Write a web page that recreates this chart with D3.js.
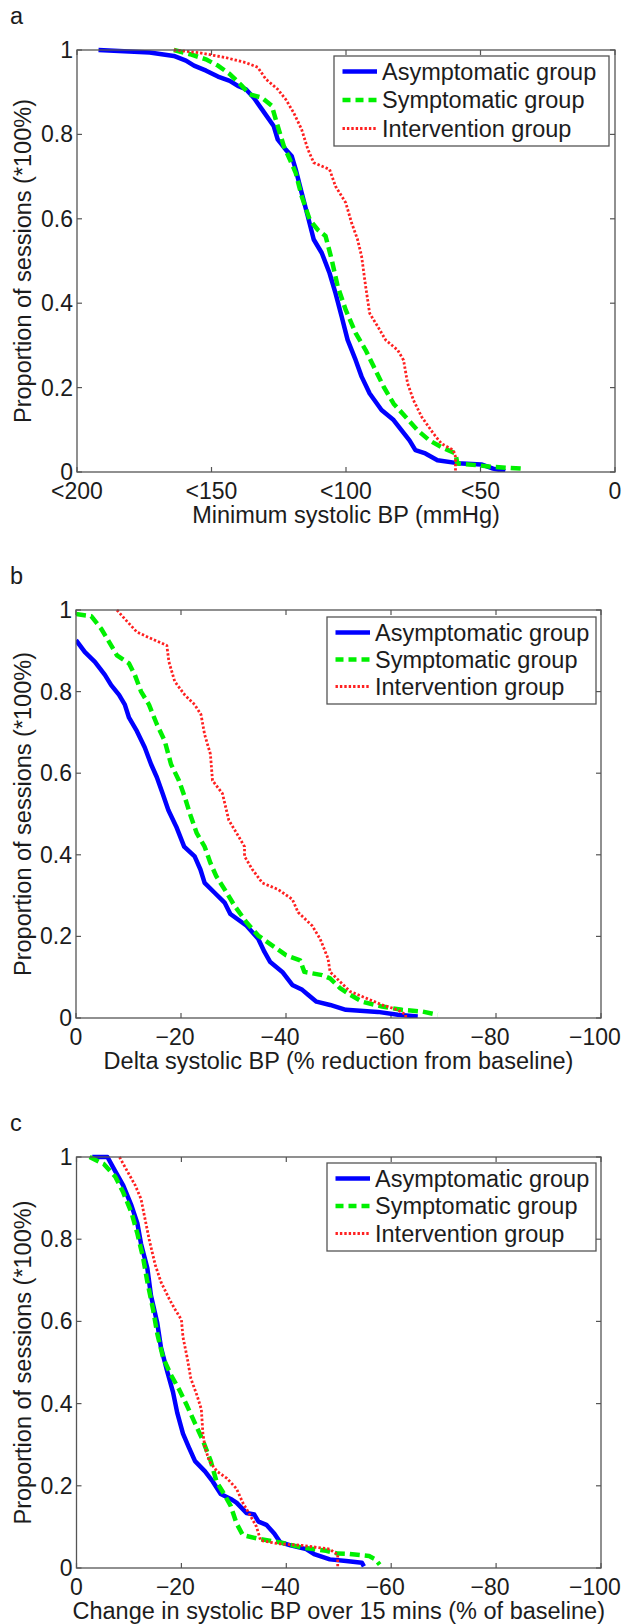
<!DOCTYPE html>
<html>
<head>
<meta charset="utf-8">
<script src="https://cdn.jsdelivr.net/npm/d3@7"></script>
<style>
  body { margin: 0; background: #fff; }
  text { font-family: "Liberation Sans", Arial, Helvetica, sans-serif; fill: #1c1c1c; }
</style>
</head>
<body>
<svg id="chart" width="624" height="1624"></svg>
<script>
// legend / series
const seriesNames = ["Asymptomatic group", "Symptomatic group", "Intervention group"];
const yTicks = [0, 0.2, 0.4, 0.6, 0.8, 1];
const yTickLabels = ["0", "0.2", "0.4", "0.6", "0.8", "1"];
const yTitle = "Proportion of sessions (*100%)";

// panel a : minimum systolic BP
const xTicksA = [-200, -150, -100, -50, 0];
const xTickLabelsA = ["<200", "<150", "<100", "<50", "0"];
const xTitleA = "Minimum systolic BP (mmHg)";
const asymA = [[-192,1],[-173,0.994],[-164,0.986],[-159.5,0.975],[-156.5,0.963],[-152,0.951],[-147.6,0.937],[-143.2,0.927],
  [-140.2,0.915],[-137.2,0.907],[-134.3,0.887],[-131.3,0.86],[-126.9,0.82],[-125.4,0.788],[-122.4,0.764],[-120.2,0.749],
  [-118.7,0.717],[-116.5,0.662],[-114.2,0.606],[-112,0.551],[-109,0.519],[-106.1,0.471],[-103.9,0.424],[-101.6,0.368],
  [-99.4,0.313],[-96.4,0.265],[-94.2,0.226],[-91.2,0.186],[-86.8,0.147],[-82.3,0.123],[-79.4,0.099],[-76.4,0.075],
  [-74.2,0.052],[-70.5,0.044],[-66,0.028],[-58.6,0.021],[-49.7,0.018],[-45.3,0.008],[-40.8,0.002]];
const sympA = [[-164,1],[-158,0.99],[-152.1,0.978],[-147.6,0.963],[-143.2,0.943],[-138.7,0.915],[-135.8,0.895],[-131.3,0.887],
  [-127.6,0.868],[-125.4,0.82],[-123.1,0.772],[-120.9,0.741],[-118.7,0.709],[-116.5,0.654],[-113.5,0.598],[-110.5,0.574],
  [-107.6,0.559],[-105.3,0.503],[-103.1,0.44],[-100.1,0.384],[-96.4,0.329],[-92.7,0.289],[-89.7,0.25],[-86,0.202],
  [-82.3,0.162],[-77.9,0.131],[-73.4,0.099],[-69,0.075],[-64.5,0.059],[-59.3,0.044],[-58.6,0.02],[-51.2,0.016],
  [-45.3,0.012],[-34.9,0.008]];
const intA = [[-164,1],[-155,0.994],[-144.7,0.982],[-137.2,0.97],[-132.8,0.959],[-129.8,0.931],[-125.4,0.907],[-122.4,0.883],
  [-119.5,0.852],[-116.5,0.812],[-114.2,0.765],[-112,0.733],[-106.1,0.717],[-103.9,0.677],[-100.1,0.638],[-97.9,0.59],
  [-95.7,0.551],[-94.2,0.511],[-92.7,0.44],[-91.2,0.376],[-88.2,0.345],[-85.3,0.313],[-80.8,0.289],[-78.6,0.265],
  [-77.1,0.21],[-74.9,0.17],[-71.9,0.131],[-67.5,0.091],[-64.5,0.067],[-60.1,0.052],[-59.3,0.036],[-59.3,0]];

// panel b : delta systolic BP
const xTicksBC = [0, -20, -40, -60, -80, -100];
const xTickLabelsBC = ["0", "\u221220", "\u221240", "\u221260", "\u221280", "\u2212100"];
const xTitleB = "Delta systolic BP (% reduction from baseline)";
const asymB = [[0,0.926],[-1.7,0.897],[-3.6,0.873],[-5.5,0.841],[-6.7,0.816],[-8.2,0.792],[-9.3,0.768],[-10.1,0.736],
  [-11.6,0.703],[-13.1,0.663],[-14.3,0.622],[-15.4,0.59],[-16.5,0.55],[-17.6,0.509],[-19.1,0.469],[-20.6,0.42],
  [-22.6,0.396],[-23.7,0.364],[-24.5,0.331],[-26.4,0.307],[-28.3,0.283],[-29.4,0.255],[-32.5,0.226],[-34.7,0.194],
  [-35.9,0.162],[-37,0.137],[-39.3,0.113],[-41.2,0.081],[-43.1,0.069],[-44.2,0.057],[-45.8,0.04],[-48.4,0.032],
  [-51.4,0.02],[-57.5,0.015],[-61.3,0.008],[-65.1,0.004]];
const sympB = [[0,0.99],[-2.9,0.985],[-4.8,0.954],[-6.3,0.922],[-7.8,0.889],[-10.1,0.869],[-11.2,0.841],[-12.4,0.8],
  [-13.9,0.768],[-15.4,0.72],[-16.9,0.679],[-18.1,0.622],[-19.6,0.582],[-20.7,0.542],[-21.9,0.493],[-23,0.453],
  [-24.5,0.42],[-25.6,0.38],[-26.7,0.348],[-28.7,0.307],[-30.2,0.275],[-32.5,0.234],[-34.7,0.202],[-37.8,0.174],
  [-40,0.154],[-42.7,0.141],[-43.5,0.113],[-46.9,0.105],[-48.4,0.097],[-50.3,0.073],[-52.2,0.057],[-54.5,0.04],
  [-58.3,0.028],[-62.1,0.02],[-65.9,0.016],[-68.9,0.008]];
const intB = [[-7.8,1],[-9.3,0.978],[-11.6,0.946],[-14.3,0.93],[-17.3,0.913],[-17.7,0.873],[-18.8,0.825],[-20.7,0.792],
  [-22.6,0.768],[-23.8,0.744],[-24.5,0.695],[-25.6,0.647],[-26,0.582],[-27.9,0.55],[-29.1,0.485],[-30.6,0.453],
  [-32.1,0.42],[-32.1,0.396],[-33.6,0.364],[-35.5,0.331],[-38.5,0.315],[-41.2,0.291],[-42.3,0.259],[-45,0.226],
  [-46.5,0.194],[-48,0.146],[-48.4,0.113],[-50.3,0.089],[-52.2,0.065],[-55.2,0.049],[-58.3,0.032],[-61.3,0.02],
  [-62.8,0.008],[-62.8,0]];

// panel c : change over 15 mins
const xTitleC = "Change in systolic BP over 15 mins (% of baseline)";
const asymC = [[-3,1],[-5.9,1],[-7.4,0.965],[-8.9,0.931],[-10.5,0.881],[-11.6,0.839],[-12.3,0.789],[-13.5,0.73],
  [-14.2,0.663],[-15.4,0.596],[-16.1,0.537],[-17.3,0.478],[-18.4,0.428],[-19.2,0.378],[-20.3,0.327],[-21.4,0.294],
  [-22.6,0.26],[-24.5,0.235],[-26,0.21],[-27.5,0.18],[-29.4,0.168],[-30.5,0.159],[-32.4,0.134],[-33.9,0.13],
  [-34.7,0.113],[-36.2,0.105],[-37.7,0.084],[-38.8,0.063],[-40.8,0.055],[-43.8,0.046],[-45.3,0.034],[-48.3,0.021],
  [-51.4,0.017],[-54.4,0.013],[-54.8,0.004]];
const sympC = [[-2.5,1],[-5.2,0.983],[-7.4,0.952],[-8.9,0.914],[-10.5,0.864],[-11.6,0.814],[-12.7,0.755],[-13.5,0.697],
  [-14.6,0.629],[-15.4,0.57],[-16.5,0.512],[-18,0.47],[-19.5,0.436],[-21.1,0.394],[-22.6,0.352],[-24.1,0.31],
  [-25.6,0.26],[-26.7,0.21],[-27.9,0.185],[-29.4,0.151],[-30.5,0.109],[-31.7,0.08],[-34.7,0.071],[-38.5,0.063],
  [-43,0.05],[-47.6,0.042],[-49.8,0.035],[-52.1,0.034],[-55.8,0.029],[-57,0.021],[-57.8,0.008]];
const intC = [[-8.2,1],[-9.7,0.965],[-11.2,0.931],[-12.3,0.898],[-13.1,0.847],[-13.9,0.797],[-15,0.738],[-16.1,0.696],
  [-17.7,0.654],[-18.8,0.629],[-20,0.604],[-20.3,0.562],[-21.1,0.512],[-21.8,0.461],[-23,0.419],[-23.8,0.386],
  [-24.1,0.327],[-24.5,0.294],[-25.3,0.26],[-26.8,0.235],[-28.7,0.218],[-30.5,0.193],[-31.7,0.159],[-33.2,0.126],
  [-34.3,0.101],[-35.1,0.067],[-38.5,0.059],[-43,0.055],[-48.3,0.046],[-49.1,0.038],[-49.8,0.034],[-49.8,0]];

const styles = [
  { color: "#0000ff", width: 4.5, dash: null, legendDash: null },
  { color: "#00f000", width: 4.5, dash: "10,5", legendDash: "8,5" },
  { color: "#ff2020", width: 2.8, dash: "2.4,2", legendDash: "2.4,2" }
];

const panels = [
  { label: "a", left: 77, right: 615, top: 50, bottom: 472, domain: [-200, 0],
    ticks: xTicksA, tickLabels: xTickLabelsA, title: xTitleA, series: [asymA, sympA, intA],
    legend: { x: 334, y: 56, w: 275, h: 90 } },
  { label: "b", left: 76, right: 601, top: 610, bottom: 1018, domain: [0, -100],
    ticks: xTicksBC, tickLabels: xTickLabelsBC, title: xTitleB, series: [asymB, sympB, intB],
    legend: { x: 327, y: 617, w: 269, h: 87 } },
  { label: "c", left: 76.5, right: 601, top: 1157, bottom: 1568, domain: [0, -100],
    ticks: xTicksBC, tickLabels: xTickLabelsBC, title: xTitleC, series: [asymC, sympC, intC],
    legend: { x: 327, y: 1163, w: 269, h: 88 } }
];

const svg = d3.select("#chart");
const fs = 23.5;
const tickFs = 23;
const axisColor = "#555";
const tickLen = 5;

panels.forEach((p, pi) => {
  const x = d3.scaleLinear().domain(p.domain).range([p.left, p.right]);
  const y = d3.scaleLinear().domain([0, 1]).range([p.bottom, p.top]);
  const g = svg.append("g");

  g.append("text").attr("x", 10).attr("y", p.top - 26)
    .attr("font-size", fs).text(p.label);

  // clip the curves to the axes box
  const clipId = "clip" + pi;
  svg.append("clipPath").attr("id", clipId).append("rect")
    .attr("x", p.left).attr("y", p.top - 3)
    .attr("width", p.right - p.left).attr("height", p.bottom - p.top + 3);

  // ticks, inside, on all four sides (matlab box)
  p.ticks.forEach(t => {
    g.append("line").attr("x1", x(t)).attr("x2", x(t)).attr("y1", p.bottom).attr("y2", p.bottom - tickLen)
      .attr("stroke", axisColor).attr("stroke-width", 1.2);
    g.append("line").attr("x1", x(t)).attr("x2", x(t)).attr("y1", p.top).attr("y2", p.top + tickLen)
      .attr("stroke", axisColor).attr("stroke-width", 1.2);
  });
  yTicks.forEach(t => {
    g.append("line").attr("x1", p.left).attr("x2", p.left + tickLen).attr("y1", y(t)).attr("y2", y(t))
      .attr("stroke", axisColor).attr("stroke-width", 1.2);
    g.append("line").attr("x1", p.right).attr("x2", p.right - tickLen).attr("y1", y(t)).attr("y2", y(t))
      .attr("stroke", axisColor).attr("stroke-width", 1.2);
  });

  // tick labels
  p.ticks.forEach((t, i) => {
    const lab = p.tickLabels[i];
    g.append("text").attr("x", x(t) + (lab.startsWith("\u2212") ? -6 : 0)).attr("y", p.bottom + 26.5)
      .attr("text-anchor", "middle").attr("font-size", tickFs).text(lab);
  });
  yTicks.forEach((t, i) => {
    g.append("text").attr("x", p.left - 4).attr("y", y(t) + 8)
      .attr("text-anchor", "end").attr("font-size", tickFs).text(yTickLabels[i]);
  });

  // axis titles
  g.append("text").attr("x", (p.left + p.right) / 2).attr("y", p.bottom + 50.5)
    .attr("text-anchor", "middle").attr("font-size", fs).text(p.title);
  g.append("text").attr("transform", `translate(31,${(p.top + p.bottom) / 2}) rotate(-90)`)
    .attr("text-anchor", "middle").attr("font-size", fs).text(yTitle);

  // curves
  const line = d3.line().x(d => x(d[0])).y(d => y(d[1]));
  const lines = g.append("g").attr("clip-path", `url(#${clipId})`);
  p.series.forEach((s, si) => {
    const st = styles[si];
    lines.append("path").datum(s).attr("d", line)
      .attr("fill", "none").attr("stroke", st.color).attr("stroke-width", st.width)
      .attr("stroke-dasharray", st.dash).attr("stroke-linejoin", "round");
  });

  // box
  g.append("rect").attr("x", p.left).attr("y", p.top)
    .attr("width", p.right - p.left).attr("height", p.bottom - p.top)
    .attr("fill", "none").attr("stroke", axisColor).attr("stroke-width", 1.3);

  // legend
  const L = p.legend;
  const lg = g.append("g").attr("transform", `translate(${L.x},${L.y})`);
  lg.append("rect").attr("width", L.w).attr("height", L.h)
    .attr("fill", "#fff").attr("stroke", axisColor).attr("stroke-width", 1.3);
  const rowGap = (L.h - 33) / 2;
  seriesNames.forEach((name, si) => {
    const cy = 15.5 + si * rowGap;
    const st = styles[si];
    lg.append("line").attr("x1", 8.5).attr("x2", 43).attr("y1", cy).attr("y2", cy)
      .attr("stroke", st.color).attr("stroke-width", st.width).attr("stroke-dasharray", st.legendDash);
    lg.append("text").attr("x", 48).attr("y", cy + 8).attr("font-size", fs).text(name);
  });
});
</script>
</body>
</html>
